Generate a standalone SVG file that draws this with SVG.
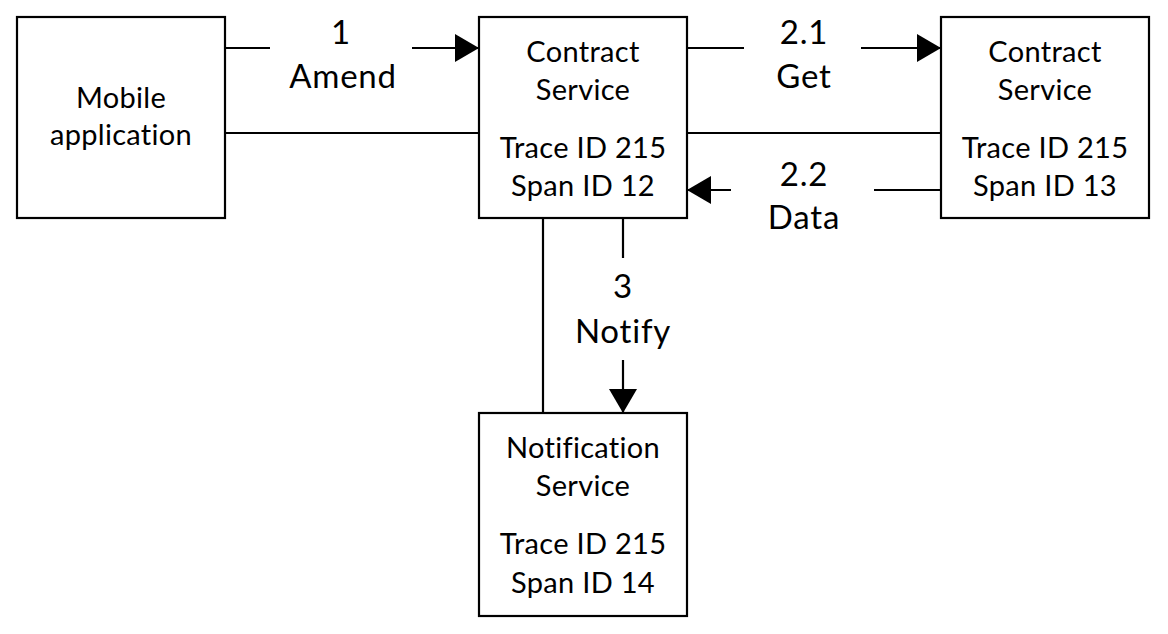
<svg xmlns="http://www.w3.org/2000/svg" width="1168" height="634" viewBox="0 0 1168 634">
<defs>
<style>
.box{fill:#fff;stroke:#000;stroke-width:2.2}
.ln{fill:none;stroke:#000;stroke-width:2.2}
.t{font-family:Lato,"Open Sans",sans-serif;font-size:29px;fill:#000;text-anchor:middle;letter-spacing:0.3px}
.l{font-family:Lato,"Open Sans",sans-serif;font-size:33px;fill:#000;text-anchor:middle;letter-spacing:0.8px}
</style>
<marker id="ah" viewBox="0 0 24 28" refX="24" refY="14" markerWidth="24" markerHeight="28" markerUnits="userSpaceOnUse" orient="auto">
<path d="M0,0 L24,14 L0,28 Z" fill="#000"/>
</marker>
</defs>
<rect width="1168" height="634" fill="#fff"/>
<g id="connectors">
<line class="ln" x1="225" y1="48" x2="270" y2="48"/>
<line class="ln" x1="412" y1="48" x2="479" y2="48" marker-end="url(#ah)"/>
<line class="ln" x1="225" y1="133" x2="479" y2="133"/>
<line class="ln" x1="687" y1="133" x2="941" y2="133"/>
<line class="ln" x1="687" y1="48" x2="744" y2="48"/>
<line class="ln" x1="861" y1="48" x2="941" y2="48" marker-end="url(#ah)"/>
<line class="ln" x1="941" y1="190" x2="874" y2="190"/>
<line class="ln" x1="731" y1="190" x2="687" y2="190" marker-end="url(#ah)"/>
<line class="ln" x1="543" y1="218" x2="543" y2="413"/>
<line class="ln" x1="623" y1="218" x2="623" y2="258"/>
<line class="ln" x1="623" y1="360" x2="623" y2="413" marker-end="url(#ah)"/>
<text class="l" x="341" y="44">1</text>
<text class="l" x="343" y="88">Amend</text>
<text class="l" x="804" y="44">2.1</text>
<text class="l" x="804" y="88">Get</text>
<text class="l" x="804" y="186">2.2</text>
<text class="l" x="804" y="229">Data</text>
<text class="l" x="623" y="298">3</text>
<text class="l" x="623" y="343">Notify</text>
</g>
<g id="mobile">
<rect class="box" x="17" y="17" width="208" height="201"/>
<text class="t" x="121" y="108">Mobile</text>
<text class="t" x="121" y="145">application</text>
</g>
<g id="contract1">
<rect class="box" x="479" y="17" width="208" height="201"/>
<text class="t" x="583" y="62">Contract</text>
<text class="t" x="583" y="100">Service</text>
<text class="t" x="583" y="158">Trace ID 215</text>
<text class="t" x="583" y="196">Span ID 12</text>
</g>
<g id="contract2">
<rect class="box" x="941" y="17" width="208" height="201"/>
<text class="t" x="1045" y="62">Contract</text>
<text class="t" x="1045" y="100">Service</text>
<text class="t" x="1045" y="158">Trace ID 215</text>
<text class="t" x="1045" y="196">Span ID 13</text>
</g>
<g id="notification">
<rect class="box" x="479" y="413" width="208" height="203"/>
<text class="t" x="583" y="458">Notification</text>
<text class="t" x="583" y="496">Service</text>
<text class="t" x="583" y="554">Trace ID 215</text>
<text class="t" x="583" y="593">Span ID 14</text>
</g>
</svg>
